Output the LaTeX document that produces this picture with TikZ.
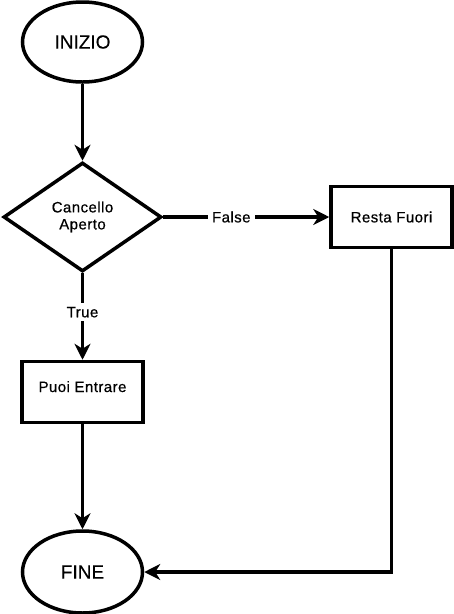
\documentclass[tikz,border=0pt]{standalone}
\usepackage{fontspec}
\setmainfont{Liberation Sans}
\usetikzlibrary{shapes.geometric,arrows.meta}
\begin{document}
\begin{tikzpicture}[x=1pt,y=-1pt,
  every node/.style={font=\fontsize{15}{17}\selectfont\addfontfeature{LetterSpace=3,FakeBold=0.6}},
  term/.style={draw,ellipse,line width=3.5pt,minimum width=120pt,minimum height=80pt,inner sep=0pt,font=\fontsize{19}{21}\selectfont\addfontfeature{FakeBold=0.3}},
  proc/.style={draw,rectangle,line width=3.5pt,minimum width=121pt,minimum height=61pt,inner sep=0pt},
  cond/.style={draw,diamond,line width=3.5pt,aspect=1.45,minimum width=158pt,minimum height=109pt,inner sep=0pt,align=center},
  conn/.style={line width=3.5pt,-{Stealth[length=16pt,width=16pt,inset=5pt]}},
  lbl/.style={fill=white,inner sep=4pt}]
\useasboundingbox (0,0) rectangle (454,614);
\node[term] (inizio) at (82.5,42) {INIZIO};
\node[cond] (cancello) at (82.5,217) {Cancello\\Aperto};
\node[proc] (resta) at (391.5,217) {Resta Fuori\hspace{10pt}};
\node[proc,text height=9pt,text depth=9pt] (puoi) at (82.5,392) {Puoi Entrare};
\node[term,minimum height=82pt] (fine) at (82.5,572) {FINE};
\draw[conn] (inizio) -- (cancello);
\draw[conn] (cancello.east) -- node[lbl,pos=0.41] {False} (resta.west);
\draw[conn] (cancello.south) -- node[lbl,pos=0.45] {True} (puoi.north);
\draw[conn] (puoi) -- (fine);
\draw[conn] (resta.south) |- (fine.east);
\end{tikzpicture}
\end{document}
